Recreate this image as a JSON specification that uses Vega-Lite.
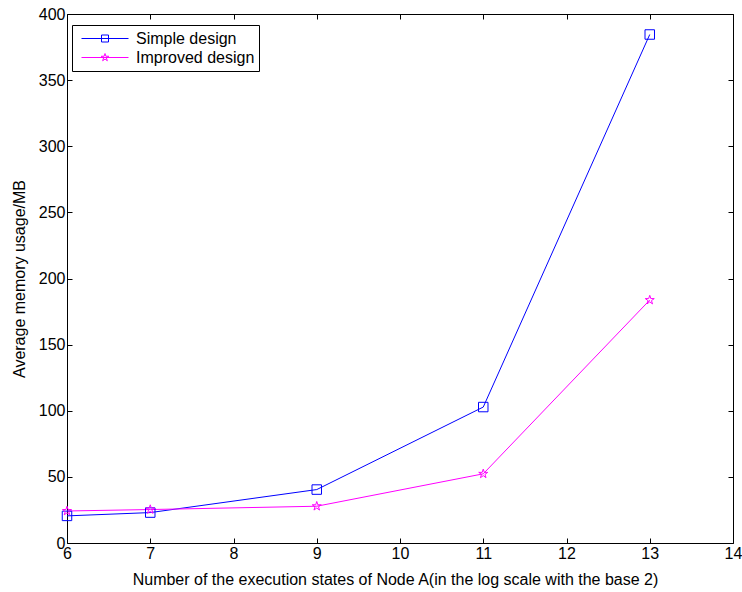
{
  "$schema": "https://vega.github.io/schema/vega-lite/v6.json",
  "autosize": "none",
  "width": 666,
  "height": 529,
  "padding": {"left": 67, "top": 14, "right": 9, "bottom": 49},
  "background": "white",
  "config": {
    "font": "Liberation Sans",
    "view": {"stroke": "black", "strokeWidth": 1},
    "axis": {
      "grid": false,
      "domain": false,
      "tickColor": "black",
      "tickSize": -5,
      "labelFlush": false,
      "labelColor": "black",
      "labelFontSize": 16,
      "labelFont": "Liberation Sans",
      "titleFont": "Liberation Sans",
      "titleFontSize": 16,
      "titleFontWeight": "normal",
      "titleColor": "black"
    }
  },
  "data": {
    "values": [
      {"x": 6, "y": 20.5, "series": "Simple design"},
      {"x": 7, "y": 23, "series": "Simple design"},
      {"x": 9, "y": 40.4, "series": "Simple design"},
      {"x": 11, "y": 102.8, "series": "Simple design"},
      {"x": 13, "y": 384.5, "series": "Simple design"},
      {"x": 6, "y": 24.2, "series": "Improved design"},
      {"x": 7, "y": 25.3, "series": "Improved design"},
      {"x": 9, "y": 27.8, "series": "Improved design"},
      {"x": 11, "y": 52.3, "series": "Improved design"},
      {"x": 13, "y": 183.7, "series": "Improved design"}
    ]
  },
  "resolve": {"axis": {"x": "independent", "y": "independent"}},
  "layer": [
    {
      "mark": {"type": "line", "strokeWidth": 1},
      "encoding": {
        "x": {
          "field": "x", "type": "quantitative",
          "scale": {"domain": [6, 14], "nice": false, "zero": false},
          "axis": {"orient": "bottom", "values": [6, 7, 8, 9, 10, 11, 12, 13, 14], "title": "Number of the execution states of Node A(in the log scale with the base 2)", "labelPadding": 7, "titleY": 28, "titleX": 328}
        },
        "y": {
          "field": "y", "type": "quantitative",
          "scale": {"domain": [0, 400], "nice": false},
          "axis": {"orient": "left", "values": [0, 50, 100, 150, 200, 250, 300, 350, 400], "title": "Average memory usage/MB", "labelPadding": 7, "titleX": -40}
        },
        "color": {
          "field": "series", "type": "nominal",
          "scale": {"domain": ["Simple design", "Improved design"], "range": ["#0000FF", "#FF00FF"]},
          "legend": {
            "title": null,
            "orient": "none",
            "legendX": 5,
            "legendY": 11,
            "strokeColor": "black",
            "fillColor": "white",
            "padding": 4,
            "symbolOffset": 21,
            "symbolSize": 100,
            "symbolStrokeWidth": 1,
            "clipHeight": 19,
            "labelFontSize": 16,
            "labelColor": "black",
            "labelFont": "Liberation Sans",
            "labelOffset": 23,
            "rowPadding": 0,
            "encode": {
              "symbols": {
                "update": {
                  "size": {"value": 100},
                  "shape": {"signal": "datum.value == 'Simple design' ? 'M-4.7,0L4.7,0M-0.7,-0.7L0.7,-0.7L0.7,0.7L-0.7,0.7Z' : 'M-4.7,0L4.7,0M0,-0.8L0.18,-0.25L0.76,-0.25L0.29,0.09L0.47,0.65L0,0.31L-0.47,0.65L-0.29,0.09L-0.76,-0.25L-0.18,-0.25Z'"},
                  "fill": {"value": "transparent"}
                }
              }
            }
          }
        }
      }
    },
    {
      "transform": [{"filter": "datum.series == 'Simple design'"}],
      "mark": {"type": "point", "shape": "square", "filled": false, "size": 90, "strokeWidth": 1, "opacity": 1},
      "encoding": {
        "x": {"field": "x", "type": "quantitative", "axis": null},
        "y": {"field": "y", "type": "quantitative", "axis": null},
        "color": {"field": "series", "type": "nominal", "legend": null}
      }
    },
    {
      "transform": [{"filter": "datum.series == 'Improved design'"}],
      "mark": {"type": "point", "shape": "M0,-1L0.225,-0.309L0.951,-0.309L0.363,0.118L0.588,0.809L0,0.382L-0.588,0.809L-0.363,0.118L-0.951,-0.309L-0.225,-0.309Z", "filled": false, "size": 90, "strokeWidth": 1, "opacity": 1},
      "encoding": {
        "x": {"field": "x", "type": "quantitative", "axis": null},
        "y": {"field": "y", "type": "quantitative", "axis": null},
        "color": {"field": "series", "type": "nominal", "legend": null}
      }
    },
    {
      "mark": {"type": "point", "opacity": 0},
      "encoding": {
        "x": {"field": "x", "type": "quantitative", "axis": {"orient": "top", "values": [6, 7, 8, 9, 10, 11, 12, 13, 14], "labels": false, "title": null}},
        "y": {"field": "y", "type": "quantitative", "axis": {"orient": "right", "values": [0, 50, 100, 150, 200, 250, 300, 350, 400], "labels": false, "title": null}}
      }
    }
  ]
}
